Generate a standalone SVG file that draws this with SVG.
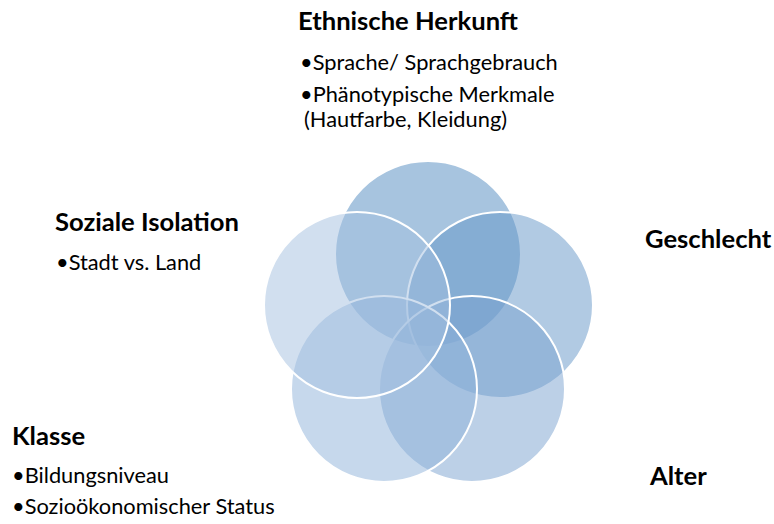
<svg xmlns="http://www.w3.org/2000/svg" width="774" height="524" viewBox="0 0 774 524">
<style>
.c{stroke:#ffffff;stroke-width:2;fill-opacity:0.5}
.t{font-family:Lato,"Liberation Sans",sans-serif;font-weight:bold;font-size:25.6px;fill:#000}
.b{font-family:Lato,"Liberation Sans",sans-serif;font-size:21.8px;fill:#000}
</style>
<rect width="774" height="524" fill="#ffffff"/>
<g id="circles">
<g id="ethnische"><circle class="c" cx="428" cy="254" r="93" fill="#5089BF"/></g>
<g id="geschlecht"><circle class="c" cx="500" cy="305" r="93" fill="#6395C7"/></g>
<g id="alter"><circle class="c" cx="472" cy="389" r="93" fill="#79A1CF"/></g>
<g id="klasse"><circle class="c" cx="384" cy="389" r="93" fill="#8DB1D9"/></g>
<g id="soziale"><circle class="c" cx="357" cy="305" r="93" fill="#A3BFDF"/></g>
</g>
<g id="labels">
<text class="t" x="298" y="30">Ethnische Herkunft</text>
<text class="b" x="300" y="70">•Sprache/ Sprachgebrauch</text>
<text class="b" x="300" y="102">•Phänotypische Merkmale</text>
<text class="b" x="304" y="127">(Hautfarbe, Kleidung)</text>
<text class="t" x="55" y="231">Soziale Isolation</text>
<text class="b" x="56" y="270">•Stadt vs. Land</text>
<text class="t" x="645" y="248">Geschlecht</text>
<text class="t" x="12" y="445">Klasse</text>
<text class="b" x="12" y="483">•Bildungsniveau</text>
<text class="b" x="12" y="514">•Sozioökonomischer Status</text>
<text class="t" x="650" y="485">Alter</text>
</g>
</svg>
